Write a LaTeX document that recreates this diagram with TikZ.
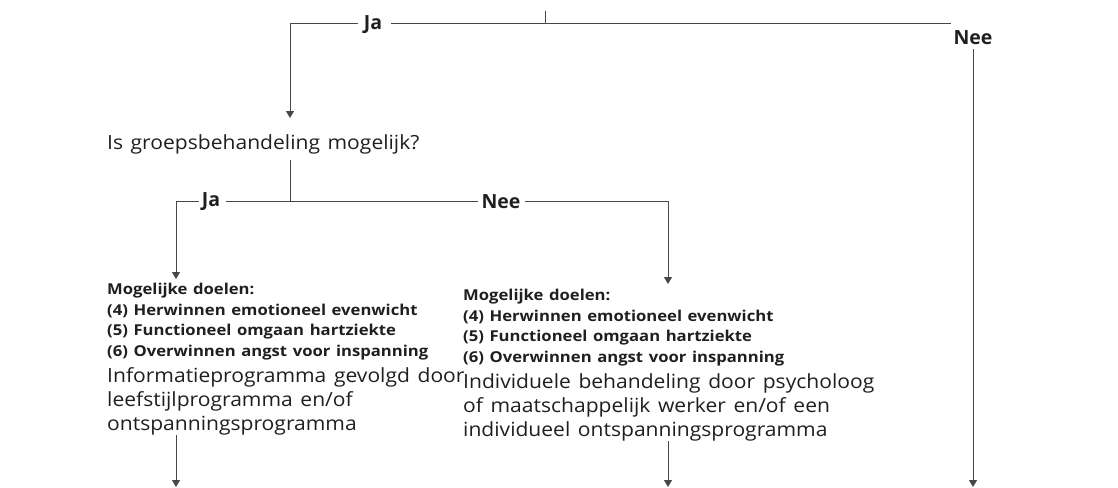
\documentclass[tikz,border=0pt]{standalone}
\usepackage{fontspec}
\setmainfont{Open Sans}
\newfontfamily\regf[FakeStretch=1.08]{Open Sans}
\newfontfamily\boldf[FakeStretch=1.11]{Open Sans}
\usetikzlibrary{arrows.meta}
\newcommand\bsz{\fontsize{15pt}{20.5pt}\boldf\bfseries\spaceskip=5.6pt plus 1pt minus 1pt\relax}
\newcommand\rsz{\fontsize{19.5pt}{23.8pt}\regf\mdseries\spaceskip=7.6pt plus 1pt minus 1pt\relax}
\newcommand\lsz{\fontsize{19.5pt}{20pt}\selectfont\bfseries}
\begin{document}
\begin{tikzpicture}[x=1pt,y=-1pt,
  ln/.style={draw=black!72, line width=1pt},
  arr/.style={ln, -{Triangle[width=8pt,length=7pt]}},
  lbl/.style={font=\lsz, text=black!88, inner sep=0pt},
  block/.style={text width=450pt, align=left, inner sep=0pt, text=black!88, anchor=north west}]
\useasboundingbox (0,0) rectangle (1118,487);
% top split
\coordinate (t0) at (545,11);
\coordinate (t1) at (545,24);
\coordinate (tr) at (951,24);
\node[lbl] (ja1) at (373,25) {Ja};
\node[lbl] (nee1) at (973,38) {Nee};
\node[anchor=west, inner sep=0pt, font=\rsz, text=black!88] (q2) at (107,144) {Is groepsbehandeling mogelijk?};
\draw[ln] (t0) -- (t1);
\draw[ln] (t1) -- (tr);
\draw[ln] (t1) -- ([xshift=9pt]ja1.east |- t1);
\coordinate (a1) at (290,118);
\draw[arr] ([xshift=-6pt]ja1.west |- t1) -| (a1);
\coordinate (e3) at (973,487);
\draw[arr] ([yshift=-4pt]nee1.south) -- (e3);
% second split
\coordinate (s0) at (290,160);
\coordinate (s1) at (290,201);
\node[lbl] (ja2) at (211,202) {Ja};
\node[lbl] (nee2) at (501,202) {Nee};
\draw[ln] (s0) -- (s1);
\draw[ln] ([xshift=6pt]ja2.east |- s1) -- ([xshift=-3pt]nee2.west |- s1);
\coordinate (a2) at (176,279);
\coordinate (a3) at (668,284);
\draw[arr] ([xshift=-3pt]ja2.west |- s1) -| (a2);
\draw[arr] ([xshift=4pt]nee2.east |- s1) -| (a3);
% blocks
\node[block] (b1) at (107,283) {\bsz Mogelijke doelen:\par (4) Herwinnen emotioneel evenwicht\par (5) Functioneel omgaan hartziekte\par (6) Overwinnen angst voor inspanning\par\vspace{3pt}
\rsz Informatieprogramma gevolgd door\par leefstijlprogramma en/of\par ontspanningsprogramma\par};
\node[block] (b2) at (463,289) {\bsz Mogelijke doelen:\par (4) Herwinnen emotioneel evenwicht\par (5) Functioneel omgaan hartziekte\par (6) Overwinnen angst voor inspanning\par\vspace{3pt}
\rsz Individuele behandeling door psycholoog\par of maatschappelijk werker en/of een\par individueel ontspanningsprogramma\par};
\coordinate (e1) at (176,487);
\coordinate (e2) at (668,487);
\draw[arr] (b1.south -| e1) -- (e1);
\draw[arr] (b2.south -| e2) -- (e2);
\end{tikzpicture}
\end{document}
